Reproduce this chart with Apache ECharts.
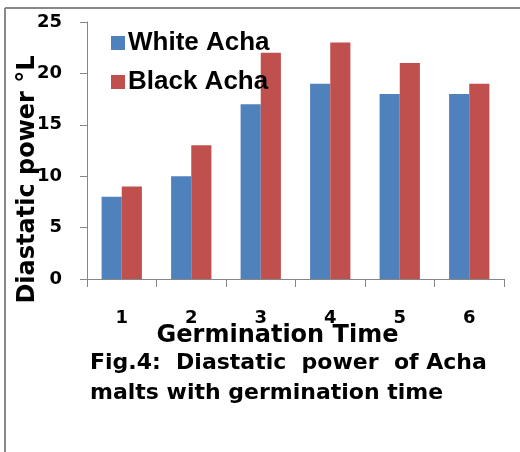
<!DOCTYPE html>
<html>
<head>
<meta charset="utf-8">
<script src="https://cdn.jsdelivr.net/npm/echarts@6/dist/echarts.min.js"></script>
<style>
html,body{margin:0;padding:0;background:#fff;}
#chart{width:520px;height:452px;}
</style>
</head>
<body>
<div id="chart"></div>
<script>
const categories = ['1', '2', '3', '4', '5', '6'];
const whiteAcha = [8, 10, 17, 19, 18, 18];
const blackAcha = [9, 13, 22, 23, 21, 19];
const seriesNames = ['White Acha', 'Black Acha'];
const xTitle = 'Germination Time';
const yTitle = 'Diastatic power °L';
const captionLines = ['Fig.4:  Diastatic  power  of Acha', 'malts with germination time'];

const FONT = '"Liberation Sans", Arial, sans-serif';
const WIDE = '"DejaVu Sans", sans-serif';
const chart = echarts.init(document.getElementById('chart'), null, {renderer: 'canvas'});
chart.setOption({
  backgroundColor: '#fff',
  animation: false,
  color: ['#4F81BD', '#C0504D'],
  grid: {left: 87, right: 16, top: 22, bottom: 173, containLabel: false, outerBoundsMode: 'none'},
  legend: {
    orient: 'vertical', left: 106, top: 25, itemGap: 13,
    itemWidth: 14, itemHeight: 14, icon: 'rect',
    textStyle: {fontFamily: FONT, fontWeight: 'bold', fontSize: 26, color: '#000', padding: [0,0,0,-2]},
    data: seriesNames
  },
  xAxis: {
    type: 'category', data: categories,
    axisLine: {lineStyle: {color: '#868686', width: 1}},
    axisTick: {show: true, length: 8, alignWithLabel: false, lineStyle: {color: '#868686'}},
    axisLabel: {fontFamily: WIDE, fontWeight: 'bold', fontSize: 18, color: '#000', margin: 30},
    name: xTitle, nameLocation: 'middle', nameGap: 45, nameMoveOverlap: false,
    nameTextStyle: {fontFamily: WIDE, fontWeight: 'bold', fontSize: 24, color: '#000', padding: [0, 36, 0, 0]}
  },
  yAxis: {
    type: 'value', min: 0, max: 25, interval: 5,
    axisLine: {show: true, lineStyle: {color: '#868686', width: 1}},
    axisTick: {show: true, length: 7, inside: false, lineStyle: {color: '#868686'}},
    splitLine: {show: false},
    axisLabel: {fontFamily: WIDE, fontWeight: 'bold', fontSize: 18, color: '#000', margin: 25},
    name: yTitle, nameLocation: 'middle', nameGap: 47, nameMoveOverlap: false,
    nameTextStyle: {fontFamily: WIDE, fontWeight: 'bold', fontSize: 24, color: '#000', padding: [0, 58, 0, 0]}
  },
  series: [
    {name: seriesNames[0], type: 'bar', data: whiteAcha, barGap: '0%', barCategoryGap: '42%',
     itemStyle: {color: '#4F81BD'}},
    {name: seriesNames[1], type: 'bar', data: blackAcha, barGap: '0%', barCategoryGap: '42%',
     itemStyle: {color: '#C0504D'}}
  ],
  graphic: [
    {type: 'line', shape: {x1: 5, y1: 8, x2: 520, y2: 8}, style: {stroke: '#888', lineWidth: 2}},
    {type: 'line', shape: {x1: 5, y1: 8, x2: 5, y2: 452}, style: {stroke: '#888', lineWidth: 2}},
    {type: 'text', left: 90, top: 352, style: {text: captionLines[0], font: 'bold 22px ' + WIDE, fill: '#000'}},
    {type: 'text', left: 90, top: 382, style: {text: captionLines[1], font: 'bold 22px ' + WIDE, fill: '#000'}}
  ]
});
</script>
</body>
</html>
